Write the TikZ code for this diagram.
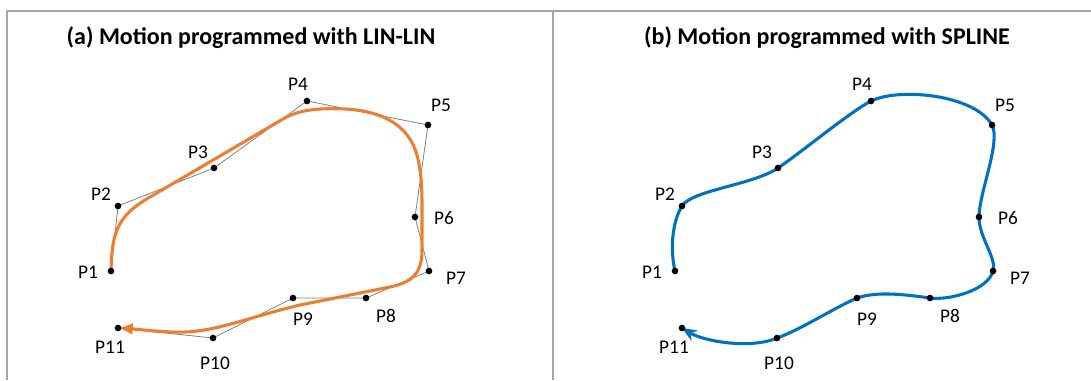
\documentclass[tikz,border=0pt]{standalone}
\usepackage{fontspec}
\setmainfont{Carlito}
\usetikzlibrary{arrows.meta}
\definecolor{linorange}{HTML}{ED7D31}
\definecolor{splblue}{HTML}{0070C0}
\definecolor{framegray}{HTML}{A6A6A6}
\definecolor{polygray}{HTML}{808080}

\begin{document}
\begin{tikzpicture}[x=0.75pt,y=-0.75pt,
  waypoint/.style={circle,fill=black,inner sep=0pt,minimum size=5pt},
  ptlabel/.style={font=\fontsize{14.5}{17}\selectfont,inner sep=0pt},
  paneltitle/.style={font=\bfseries\fontsize{18}{22}\selectfont,inner sep=0pt},
  motion/.style={line width=2.3pt,line cap=round}]
\useasboundingbox (0,0) rectangle (1091,380);

% frame
\draw[framegray,line width=1.1pt] (7,380) -- (7,11) -- (1091,11);
\draw[framegray,line width=1.1pt] (553,11) -- (553,380);

\node[paneltitle] (titleA) at (251,38) {(a) Motion programmed with LIN-LIN};
\node[paneltitle] (titleB) at (827,38) {(b) Motion programmed with SPLINE};

% programmed points, same layout in both panels
\foreach \pan/\dx in {a/0,b/564}{
  \foreach \i/\x/\y/\lx/\ly in {1/111/271/-23/1, 2/118/206/-17/-12, 3/214/168/-16/-16,
      4/307/101/-9/-17, 5/428/125/13/-20, 6/415/217/29/1, 7/429/271/27/7,
      8/366/298/20/18, 9/293/298/10/21, 10/213/338/2/25, 11/118/328/-8/19}{
    \coordinate (\pan\i) at (\x+\dx,\y);
    \node[ptlabel] (\pan\i-lbl) at (\x+\dx+\lx,\y+\ly) {P\i};
  }
}

% (a) straight segments and blended path
\draw[polygray,line width=0.6pt] (a1) \foreach \i in {2,...,11}{ -- (a\i)};
\draw[linorange,motion,-{Latex[length=11pt,width=9pt]}]
  (a1) .. controls (112,232) and (117,216) .. (150,197)
  -- (283,119)
  .. controls (300,109) and (320,108) .. (345,109)
  .. controls (385,111) and (408,127) .. (416,152)
  .. controls (421,168) and (422,185) .. (422,205)
  -- (422,250)
  .. controls (422,274) and (412,282) .. (390,287)
  -- (300,305)
  .. controls (245,318) and (212,334) .. (172,332)
  .. controls (150,331) and (135,329) .. (a11);

% (b) spline through all points
\draw[splblue,motion,-{Stealth[length=11pt,width=9pt]}]
  (b1) .. controls (670,250) and (672,222) .. (b2)
  .. controls (692,190) and (753,185) .. (b3)
  .. controls (803,151) and (850,112) .. (b4)
  .. controls (900,87) and (975,95) .. (b5)
  .. controls (1001,142) and (979,193) .. (b6)
  .. controls (979,238) and (997,258) .. (b7)
  .. controls (988,290) and (950,300.5) .. (b8)
  .. controls (905,294.5) and (877,291) .. (b9)
  .. controls (832,309) and (800,330) .. (b10)
  .. controls (752,349) and (705,342) .. (b11);

\foreach \pan in {a,b}
  \foreach \i in {1,...,11}
    \node[waypoint] (\pan\i-dot) at (\pan\i) {};
\end{tikzpicture}
\end{document}
